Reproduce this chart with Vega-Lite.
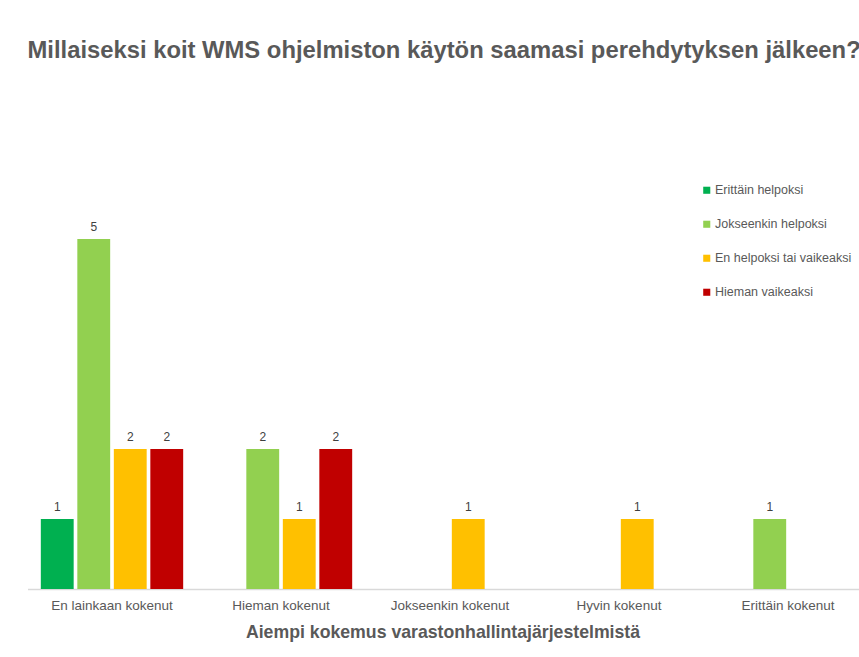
{
  "$schema": "https://vega.github.io/schema/vega-lite/v6.json",
  "autosize": "none",
  "width": 845,
  "height": 420,
  "padding": {"left": 27.5, "top": 169, "right": 0, "bottom": 68},
  "background": "white",
  "title": {
    "text": "Millaiseksi koit WMS ohjelmiston käytön saamasi perehdytyksen jälkeen?",
    "anchor": "start",
    "frame": "group",
    "font": "Liberation Sans",
    "fontSize": 23.8,
    "fontWeight": "bold",
    "color": "#595959",
    "baseline": "alphabetic",
    "offset": 87
  },
  "data": {
    "values": [
      {"kokemus": "En lainkaan kokenut", "vastaus": "Erittäin helpoksi", "lkm": 1},
      {"kokemus": "En lainkaan kokenut", "vastaus": "Jokseenkin helpoksi", "lkm": 5},
      {"kokemus": "En lainkaan kokenut", "vastaus": "En helpoksi tai vaikeaksi", "lkm": 2},
      {"kokemus": "En lainkaan kokenut", "vastaus": "Hieman vaikeaksi", "lkm": 2},
      {"kokemus": "Hieman kokenut", "vastaus": "Jokseenkin helpoksi", "lkm": 2},
      {"kokemus": "Hieman kokenut", "vastaus": "En helpoksi tai vaikeaksi", "lkm": 1},
      {"kokemus": "Hieman kokenut", "vastaus": "Hieman vaikeaksi", "lkm": 2},
      {"kokemus": "Jokseenkin kokenut", "vastaus": "En helpoksi tai vaikeaksi", "lkm": 1},
      {"kokemus": "Hyvin kokenut", "vastaus": "En helpoksi tai vaikeaksi", "lkm": 1},
      {"kokemus": "Erittäin kokenut", "vastaus": "Jokseenkin helpoksi", "lkm": 1}
    ]
  },
  "encoding": {
    "x": {
      "field": "kokemus",
      "type": "nominal",
      "sort": ["En lainkaan kokenut", "Hieman kokenut", "Jokseenkin kokenut", "Hyvin kokenut", "Erittäin kokenut"],
      "scale": {"domain": ["En lainkaan kokenut", "Hieman kokenut", "Jokseenkin kokenut", "Hyvin kokenut", "Erittäin kokenut"], "paddingInner": 0.136, "paddingOuter": 0.068},
      "title": "Aiempi kokemus varastonhallintajärjestelmistä",
      "axis": {
        "labelAngle": 0,
        "labelFont": "Liberation Sans",
        "labelFontSize": 13.5,
        "labelColor": "#595959",
        "labelPadding": 9,
        "ticks": false,
        "domainColor": "#d9d9d9",
        "domainWidth": 1.5,
        "titleFont": "Liberation Sans",
        "titleFontSize": 17.7,
        "titleFontWeight": "bold",
        "titleColor": "#595959",
        "titlePadding": 12,
        "titleX": 415,
        "titleAnchor": "middle"
      }
    },
    "xOffset": {
      "field": "vastaus",
      "type": "nominal",
      "scale": {"domain": ["Erittäin helpoksi", "Jokseenkin helpoksi", "En helpoksi tai vaikeaksi", "Hieman vaikeaksi"], "paddingInner": 0.1, "paddingOuter": 0.05}
    },
    "y": {
      "field": "lkm",
      "type": "quantitative",
      "scale": {"domain": [0, 6]},
      "axis": null
    }
  },
  "layer": [
    {
      "mark": {"type": "bar"},
      "encoding": {
        "color": {
          "field": "vastaus",
          "type": "nominal",
          "scale": {
            "domain": ["Erittäin helpoksi", "Jokseenkin helpoksi", "En helpoksi tai vaikeaksi", "Hieman vaikeaksi"],
            "range": ["#00B050", "#92D050", "#FFC000", "#C00000"]
          },
          "legend": {
            "title": null,
            "orient": "none",
            "legendX": 673,
            "legendY": 15,
            "symbolType": "square",
            "symbolSize": 50,
            "symbolStrokeWidth": 0,
            "rowPadding": 21,
            "labelFont": "Liberation Sans",
            "labelFontSize": 12.5,
            "labelColor": "#595959",
            "labelOffset": 2
          }
        }
      }
    },
    {
      "mark": {"type": "text", "dy": -12, "font": "Liberation Sans", "fontSize": 12, "color": "#404040"},
      "encoding": {"text": {"field": "lkm", "type": "quantitative"}}
    }
  ],
  "config": {"view": {"stroke": null}}
}
